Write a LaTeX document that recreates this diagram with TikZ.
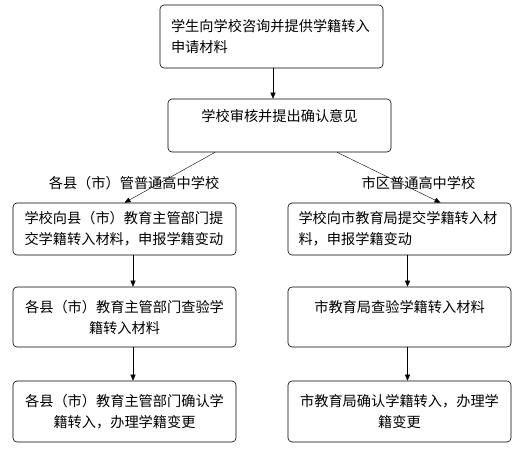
\documentclass[tikz,border=0pt]{standalone}
\usepackage{fontspec}
\setmainfont{Noto Sans CJK SC}
\usetikzlibrary{arrows.meta}

\begin{document}
\begin{tikzpicture}[x=1pt,y=-1pt,>={Triangle[length=6pt,width=5pt]},
   box/.style={draw, rounded corners=4pt, line width=.6pt, minimum width=223pt, inner sep=0pt},
   every node/.style={font=\fontsize{14.2pt}{21pt}\selectfont}]
   \useasboundingbox (0,0) rectangle (526,451);
 \begin{scope}[every node/.style={box, font=\fontsize{14.2pt}{21pt}\selectfont}]
   \node (0) [minimum height=63pt, align=left, text width=201pt] at (271.5,36.5) {学生向学校咨询并提供学籍转入\\申请材料};
   \node (1) [minimum height=53pt, align=center] at (279.5,125.5) {学校审核并提出确认意见\\ \mbox{}};
   \node (2l) [minimum height=52pt, align=left, text width=200pt] at (124.5,229) {学校向县（市）教育主管部门提\\交学籍转入材料，申报学籍变动};
   \node (2r) [minimum height=52pt, align=left, text width=202pt] at (399.5,229) {学校向市教育局提交学籍转入材\\料，申报学籍变动};
   \node (3l) [minimum height=60pt, align=center] at (124.5,317) {各县（市）教育主管部门查验学\\籍转入材料};
   \node (3r) [minimum height=60pt, align=center] at (399.5,317) {市教育局查验学籍转入材料\\ \mbox{}};
   \node (4l) [minimum height=61pt, align=center] at (124.5,411.5) {各县（市）教育主管部门确认学\\籍转入，办理学籍变更};
   \node (4r) [minimum height=61pt, align=center] at (399.5,411.5) {市教育局确认学籍转入，办理学\\籍变更};
 \end{scope}
   \node (labl) at (134,183) {各县（市）管普通高中学校};
   \node (labr) at (418.5,183) {市区普通高中学校};
   \draw[->] ([xshift=1.5pt]0.south) -- ([xshift=-6.5pt]1.north);
   \draw[->] ([xshift=-64.5pt]1.south) -- (2l.north);
   \draw[->] ([xshift=57.5pt]1.south) -- ([xshift=41pt]2r.north);
   \draw[->] ([xshift=8.5pt]2l.south) -- ([xshift=8.5pt]3l.north);
   \draw[->] ([xshift=8.5pt]3l.south) -- ([xshift=8.5pt]4l.north);
   \draw[->] ([xshift=8pt]2r.south) -- ([xshift=8pt]3r.north);
   \draw[->] ([xshift=8pt]3r.south) -- ([xshift=8pt]4r.north);
\end{tikzpicture}
\end{document}
